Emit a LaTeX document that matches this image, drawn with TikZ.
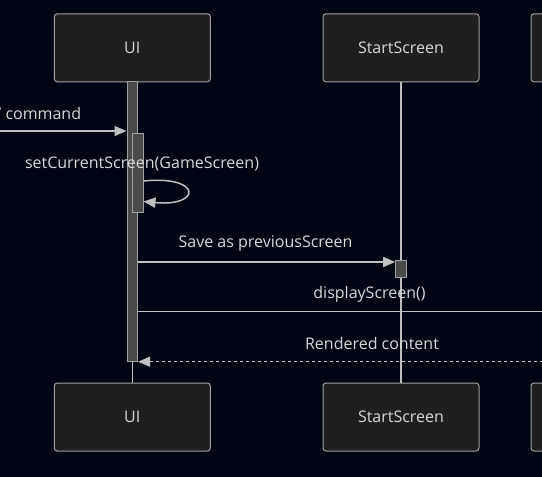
\documentclass[tikz,border=0pt]{standalone}
\usepackage{fontspec}
\setmainfont{Open Sans}
\usetikzlibrary{arrows.meta}
\definecolor{bg}{HTML}{000513}
\definecolor{boxfill}{HTML}{1F1F1F}
\definecolor{boxline}{HTML}{A0A0A0}
\definecolor{linegrey}{HTML}{C0C0C0}
\definecolor{txt}{HTML}{D8D8D8}
\definecolor{actfill}{HTML}{4A4A4A}
\tikzset{
  actor/.style={draw=boxline, line width=1pt, fill=boxfill, rounded corners=3pt,
    minimum width=156pt, minimum height=68pt, inner sep=0pt, text=txt,
    font=\fontsize{16}{18}\selectfont},
  actbar/.style={draw=boxline, line width=0.9pt, fill=actfill, inner sep=0pt, minimum width=10.7pt},
  lifeline/.style={draw=linegrey, line width=1.4pt},
  msg/.style={draw=linegrey, line width=1.5pt, -{Triangle[length=12pt,width=10pt]}, color=linegrey},
  reply/.style={msg, dash pattern=on 3pt off 3pt},
  lbl/.style={text=txt, font=\fontsize{16}{18}\selectfont, inner sep=0pt}
}
\begin{document}
\begin{tikzpicture}[x=1pt,y=-1pt]
\fill[bg] (0,0) rectangle (542,477);
\useasboundingbox (0,0) rectangle (542,477);
% actors
\node[actor] (uiT) at (132.3,47.8) {UI};
\node[actor] (ssT) at (401,47.8) {StartScreen};
\node[actor] (gsT) at (609,47.8) {};
\node[actor] (uiB) at (132.3,417) {UI};
\node[actor] (ssB) at (401,417) {StartScreen};
\node[actor] (gsB) at (609,417) {};
% lifelines
\draw[lifeline] (uiT.south) -- (uiB.north);
\draw[lifeline] (ssT.south) -- (ssB.north);
\draw[lifeline] (gsT.south) -- (gsB.north);
% activations
\node[actbar, minimum height=280.7pt] (aUI) at (132.3,221.3) {};
\node[actbar, minimum height=79pt] (aUI2) at (137.7,172.5) {};
\node[actbar, minimum height=17pt] (aSS) at (401,269.2) {};
% incoming
\coordinate (ext) at (-20,131);
\draw[msg] (ext) -- (aUI.west |- ext);
\node[lbl, anchor=west] (cmd) at (-1.5,113.5) {' command};
% self call
\node[lbl] (selfl) at (142,163.5) {setCurrentScreen(GameScreen)};
\coordinate (s1) at (aUI2.east |- 0,181);
\coordinate (s2) at (aUI2.east |- 0,201.5);
\draw[msg] (s1) .. controls (202,175) and (202,207) .. (s2);
% save
\node[lbl] (savel) at (265.5,244) {Save as previousScreen};
\coordinate (m1) at (aUI.east |- 0,262);
\draw[msg] (m1) -- (aSS.west |- m1);
% display
\node[lbl] (dispL) at (369.5,294) {displayScreen()};
\coordinate (m2) at (aUI.east |- 0,311.7);
\draw[msg] (m2) -- (gsT.south |- m2);
% rendered
\node[lbl] (rendL) at (372,343.5) {Rendered content};
\coordinate (m3) at (aUI.east |- 0,361.7);
\draw[reply] (gsT.south |- m3) -- (m3);
\end{tikzpicture}
\end{document}
